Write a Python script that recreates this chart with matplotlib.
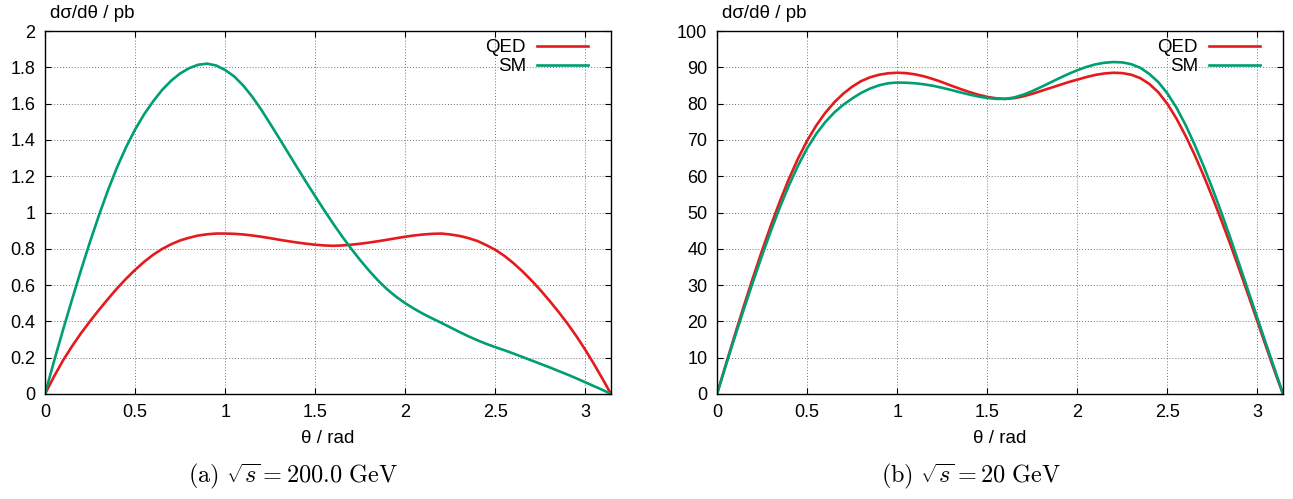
import numpy as np
import matplotlib
matplotlib.use("Agg")
import matplotlib.pyplot as plt

plt.rcParams['font.family'] = ['Liberation Sans', 'DejaVu Sans']
plt.rcParams['mathtext.fontset'] = 'cm'

theta = np.append(np.arange(0, 3.101, 0.05), np.pi)

# panel (a), sqrt(s) = 200 GeV
qed_200 = [0, 0.096, 0.185, 0.263, 0.335, 0.401, 0.464, 0.524, 0.582, 0.635,
           0.684, 0.728, 0.767, 0.799, 0.825, 0.846, 0.861, 0.873, 0.880, 0.884,
           0.884, 0.8825, 0.879, 0.8735, 0.8665, 0.8585, 0.85, 0.842, 0.8345, 0.828,
           0.8225, 0.8185, 0.8165, 0.8185, 0.8225, 0.828, 0.8345, 0.842, 0.85, 0.8585,
           0.8665, 0.8735, 0.879, 0.8825, 0.884, 0.879, 0.871, 0.859, 0.843, 0.82,
           0.794, 0.761, 0.721, 0.676, 0.626, 0.572, 0.514, 0.453, 0.388, 0.318,
           0.242, 0.160, 0.074, 0]
sm_200 = [0, 0.18, 0.353, 0.52, 0.683, 0.839, 0.986, 1.124, 1.249, 1.36,
          1.457, 1.541, 1.612, 1.675, 1.726, 1.766, 1.795, 1.814, 1.82, 1.81,
          1.785, 1.75, 1.70, 1.638, 1.567, 1.489, 1.409, 1.328, 1.247, 1.167,
          1.089, 1.012, 0.938, 0.867, 0.80, 0.737, 0.678, 0.624, 0.576, 0.535,
          0.50, 0.469, 0.441, 0.416, 0.392, 0.367, 0.342, 0.318, 0.296, 0.276,
          0.258, 0.241, 0.223, 0.204, 0.185, 0.166, 0.147, 0.127, 0.107, 0.086,
          0.064, 0.042, 0.02, 0]

# panel (b), sqrt(s) = 20 GeV
qed_20 = [0, 8.3, 16.45, 24.4, 32.1, 39.5, 46.55, 53.2, 59.35, 64.9,
          69.75, 73.9, 77.4, 80.3, 82.7, 84.65, 86.2, 87.25, 87.95, 88.35,
          88.5, 88.4, 88.05, 87.5, 86.75, 85.9, 84.95, 84.05, 83.2, 82.45,
          81.85, 81.45, 81.3, 81.5, 82.0, 82.7, 83.5, 84.3, 85.1, 85.9,
          86.6, 87.3, 87.9, 88.3, 88.5, 88.4, 87.95, 87.0, 85.4, 83.1,
          79.9, 75.9, 71.2, 66.0, 60.3, 54.2, 47.8, 41.1, 34.2, 27.1,
          19.9, 12.7, 5.6, 0]
sm_20 = [0, 8.0, 15.85, 23.5, 30.95, 38.15, 45.05, 51.55, 57.55, 62.95,
         67.65, 71.6, 74.85, 77.5, 79.65, 81.4, 82.95, 84.15, 85.05, 85.6,
         85.8, 85.75, 85.6, 85.3, 84.9, 84.35, 83.75, 83.1, 82.5, 81.95,
         81.55, 81.3, 81.3, 81.7, 82.45, 83.45, 84.6, 85.8, 87.0, 88.15,
         89.2, 90.1, 90.8, 91.25, 91.45, 91.35, 90.85, 89.85, 88.15, 85.9,
         82.8, 78.9, 74.2, 68.8, 62.9, 56.6, 49.9, 42.9, 35.6, 28.2,
         20.8, 13.45, 6.15, 0]

panels = [
    (qed_200, sm_200, 2.0, 0.2, r'$\mathrm{(a)}\ \sqrt{s} = 200.0\ \mathrm{GeV}$', 45, 293),
    (qed_20, sm_20, 100, 10, r'$\mathrm{(b)}\ \sqrt{s} = 20\ \mathrm{GeV}$', 717, 971),
]

red = '#e41a1c'
green = '#009e73'
W, H = 1293, 499

fig = plt.figure(figsize=(W / 100, H / 100), dpi=100)
for qed, sm, ymax, ystep, caption, left, cap_x in panels:
    ax = fig.add_axes([left / W, 105 / H, 566 / W, 363 / H])
    ax.plot(theta, qed, color=red, lw=1.9, label='QED')
    ax.plot(theta, sm, color=green, lw=1.9, label='SM')
    ax.set_xlim(0, np.pi)
    ax.set_ylim(0, ymax)
    ax.set_xticks(np.arange(0, 3.01, 0.5))
    ax.set_yticks(np.arange(0, ymax + ystep / 2, ystep))
    ax.xaxis.set_major_formatter(matplotlib.ticker.FormatStrFormatter('%g'))
    ax.yaxis.set_major_formatter(matplotlib.ticker.FormatStrFormatter('%g'))
    ax.tick_params(direction='in', top=True, right=True, length=4, width=0.8,
                   labelsize=13, pad=7)
    ax.grid(True, color='0.45', linestyle=(0, (1, 2)), lw=0.7)
    for sp in ax.spines.values():
        sp.set_linewidth(1.0)
    ax.set_xlabel('θ / rad', fontsize=13.5, labelpad=7)
    ax.legend(loc='upper right', bbox_to_anchor=(0.9594, 0.977), frameon=False,
              markerfirst=False, fontsize=13.5, handlelength=2.72, handletextpad=0.6,
              borderaxespad=0, borderpad=0, labelspacing=0.1)
    fig.text((left + 5) / W, 1 - 13 / H, 'dσ/dθ / pb', fontsize=13.5, va='center')
    fig.text(cap_x / W, 1 - 476 / H, caption, fontsize=17.5, ha='center', va='center')

fig.savefig('out.png', dpi=100)
